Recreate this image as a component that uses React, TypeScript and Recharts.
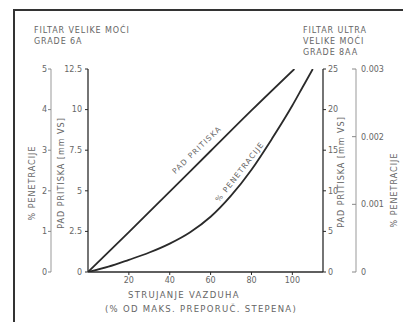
import React from 'react';
import { LineChart, Line, XAxis, YAxis } from 'recharts';

const pressureFlow = [0, 20, 40, 60, 80, 101];
const pressureDrop = [0, 2.45, 4.95, 7.45, 9.95, 12.5];
const penetrationFlow = [0, 10, 20, 30, 40, 50, 60, 70, 80, 90, 100, 105, 110];
const penetrationPct = [0, 0.13, 0.3, 0.48, 0.7, 0.98, 1.36, 1.88, 2.52, 3.28, 4.1, 4.55, 5.0];

const xTicks = [20, 40, 60, 80, 100];
const leftPenTicks = [0, 1, 2, 3, 4, 5];
const leftPresTicks = [0, 2.5, 5, 7.5, 10, 12.5];
const rightPresTicks = [0, 5, 10, 15, 20, 25];
const rightPenTicks = [0, 0.001, 0.002, 0.003];

const pressureData = pressureFlow.map((x, i) => ({ x, y: pressureDrop[i] }));
const penetrationData = penetrationFlow.map((x, i) => ({ x, y: penetrationPct[i] }));

const FONT = "'DejaVu Sans', sans-serif";
const TEXT = '#666';
const INK = '#2a2a2a';

const tickStyle = { fill: TEXT, fontSize: 8, fontFamily: FONT };

const Txt = ({ x, y, angle = 0, size = 8, ls = 1, children }: any) => (
  <div
    style={{
      position: 'absolute',
      left: x,
      top: y,
      transform: `translate(-50%, -50%) rotate(${angle}deg)`,
      whiteSpace: 'nowrap',
      fontFamily: FONT,
      fontSize: size,
      letterSpacing: ls,
      lineHeight: 1,
      color: TEXT,
    }}
  >
    {children}
  </div>
);

const Head = ({ x, y, children }: any) => (
  <div
    style={{
      position: 'absolute',
      left: x,
      top: y,
      whiteSpace: 'nowrap',
      fontFamily: FONT,
      fontSize: 8,
      letterSpacing: 0.9,
      lineHeight: '11px',
      color: TEXT,
    }}
  >
    {children}
  </div>
);

export default function App() {
  return (
    <div style={{ position: 'absolute', left: 0, top: 0, width: 404, height: 322, background: '#fff', overflow: 'hidden' }}>
      <div
        style={{
          position: 'absolute',
          left: 13,
          top: 9,
          width: 388,
          height: 320,
          borderLeft: '2px solid #333',
          borderTop: '2px solid #333',
        }}
      />
      <LineChart width={404} height={322} margin={{ top: 69, right: 4, bottom: 10, left: 21 }}>
        <XAxis
          xAxisId="b"
          type="number"
          dataKey="x"
          domain={[0, 115]}
          ticks={xTicks}
          allowDataOverflow
          height={40}
          tickSize={3}
          tickMargin={2}
          tick={tickStyle}
          tickLine={{ stroke: INK }}
          axisLine={{ stroke: INK, strokeWidth: 1.3 }}
        />
        <XAxis
          xAxisId="t"
          orientation="top"
          type="number"
          dataKey="x"
          domain={[0, 115]}
          ticks={xTicks}
          allowDataOverflow
          height={0}
          tick={false}
          tickSize={-3}
          tickLine={{ stroke: INK }}
          axisLine={{ stroke: INK, strokeWidth: 1.3 }}
        />
        <YAxis
          yAxisId="a_pres"
          type="number"
          domain={[0, 12.5]}
          ticks={leftPresTicks}
          allowDataOverflow
          width={37}
          tickSize={3}
          tickMargin={3}
          tick={tickStyle}
          tickLine={{ stroke: INK }}
          axisLine={{ stroke: INK, strokeWidth: 1.3 }}
        />
        <YAxis
          yAxisId="b_pen"
          type="number"
          domain={[0, 5]}
          ticks={leftPenTicks}
          allowDataOverflow
          width={30}
          tickSize={3}
          tickMargin={1}
          tick={tickStyle}
          tickLine={{ stroke: '#888' }}
          axisLine={{ stroke: '#999' }}
        />
        <YAxis
          yAxisId="a_pres2"
          orientation="right"
          type="number"
          domain={[0, 25]}
          ticks={rightPresTicks}
          allowDataOverflow
          width={33}
          tickSize={3}
          tickMargin={2}
          tick={tickStyle}
          tickLine={{ stroke: INK }}
          axisLine={{ stroke: INK, strokeWidth: 1.3 }}
        />
        <YAxis
          yAxisId="b_pen2"
          orientation="right"
          type="number"
          domain={[0, 0.003]}
          ticks={rightPenTicks}
          tickFormatter={(v: number) => (v === 0 ? '0' : v.toFixed(3))}
          allowDataOverflow
          width={44}
          tickSize={-4}
          tickMargin={9}
          tick={tickStyle}
          tickLine={{ stroke: '#888' }}
          axisLine={{ stroke: '#999' }}
        />
        <Line
          xAxisId="b"
          yAxisId="a_pres"
          data={pressureData}
          dataKey="y"
          type="monotone"
          stroke={INK}
          strokeWidth={1.8}
          dot={false}
          isAnimationActive={false}
        />
        <Line
          xAxisId="b"
          yAxisId="b_pen"
          data={penetrationData}
          dataKey="y"
          type="monotone"
          stroke={INK}
          strokeWidth={1.8}
          dot={false}
          isAnimationActive={false}
        />
      </LineChart>

      <Head x={34} y={25}>FILTAR VELIKE MOĆI<br />GRADE 6A</Head>
      <Head x={303} y={25}>FILTAR ULTRA<br />VELIKE MOĆI<br />GRADE 8AA</Head>

      <Txt x={33} y={183} angle={-90}>% PENETRACIJE</Txt>
      <Txt x={62} y={173} angle={-90}>PAD PRITISKA [mm VS]</Txt>
      <Txt x={342} y={172} angle={-90}>PAD PRITISKA [mm VS]</Txt>
      <Txt x={395} y={190} angle={-90}>% PENETRACIJE</Txt>

      <Txt x={197} y={150} angle={-44} size={7.5} ls={1.2}>PAD PRITISKA</Txt>
      <Txt x={240} y={172} angle={-52} size={7.5} ls={1.2}>% PENETRACIJE</Txt>

      <Txt x={184} y={295} size={8.5} ls={1.3}>STRUJANJE VAZDUHA</Txt>
      <Txt x={201} y={309} size={8.5} ls={1.3}>(% OD MAKS. PREPORUČ. STEPENA)</Txt>
    </div>
  );
}
